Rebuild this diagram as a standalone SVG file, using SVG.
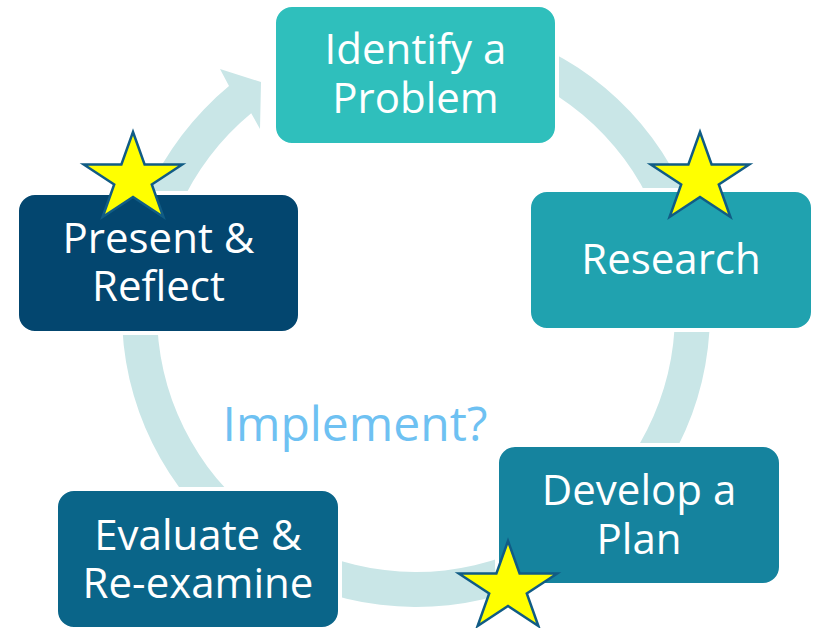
<svg xmlns="http://www.w3.org/2000/svg" width="815" height="628" viewBox="0 0 815 628">
  <style>
    .box { stroke: #ffffff; stroke-width: 4; }
    .label { font-family: "Open Sans", "Noto Sans", sans-serif; font-size: 42px; fill: #ffffff; text-anchor: middle; }
    .note { font-family: "Open Sans", "Noto Sans", sans-serif; font-size: 48px; fill: #6EC1F2; text-anchor: middle; }
    .star { fill: #FFFF00; stroke: #115C85; stroke-width: 2.5; stroke-linejoin: miter; }
  </style>
  <defs>
    <!-- five-point star, outer radius 47, slightly widened -->
    <polygon id="star5" points="0,-47 11.6,-14.5 49.2,-14.5 18.8,5.5 30.4,38 0,18 -30.4,38 -18.8,5.5 -49.2,-14.5 -11.6,-14.5"/>
  </defs>

  <rect width="815" height="628" fill="#ffffff"/>

  <!-- cycle arrow running clockwise behind the boxes -->
  <g id="connectors">
    <path fill="#C9E6E7" d="M 416 19 A 294 294 0 1 1 229 86.1 L 220 69 L 261 82 L 260 129 L 251.2 113.2 A 259 259 0 1 0 416 54 Z"/>
  </g>

  <g id="identify">
    <rect class="box" x="274" y="5" width="283" height="140" rx="18" fill="#2FBFBC"/>
    <text class="label" x="415.5" y="64">Identify a</text>
    <text class="label" x="415.5" y="113">Problem</text>
  </g>

  <g id="research">
    <rect class="box" x="529" y="190" width="284" height="140" rx="18" fill="#20A2AF"/>
    <text class="label" x="671" y="274">Research</text>
  </g>

  <g id="plan">
    <rect class="box" x="497" y="445" width="284" height="140" rx="18" fill="#15839E"/>
    <text class="label" x="639" y="505">Develop a</text>
    <text class="label" x="639" y="554">Plan</text>
  </g>

  <g id="evaluate">
    <rect class="box" x="56" y="489" width="284" height="140" rx="18" fill="#0A6589"/>
    <text class="label" x="198" y="550">Evaluate &amp;</text>
    <text class="label" x="198" y="598">Re-examine</text>
  </g>

  <g id="present">
    <rect class="box" x="17" y="193" width="283" height="140" rx="18" fill="#03466F"/>
    <text class="label" x="158.5" y="253">Present &amp;</text>
    <text class="label" x="158.5" y="301">Reflect</text>
  </g>

  <g id="implement">
    <text class="note" x="355" y="441">Implement?</text>
  </g>

  <g id="stars">
    <use href="#star5" class="star" x="133" y="179"/>
    <use href="#star5" class="star" x="700" y="179"/>
    <use href="#star5" class="star" x="508" y="588"/>
  </g>
</svg>
